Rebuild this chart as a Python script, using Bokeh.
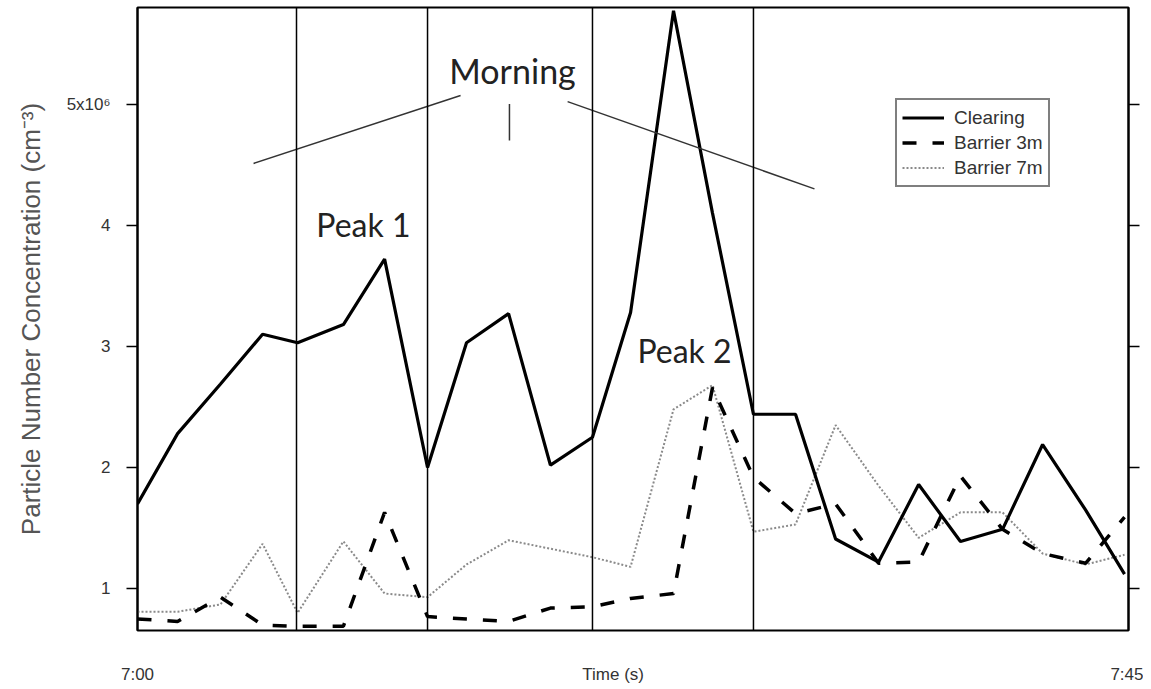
from bokeh.plotting import figure
from bokeh.models import Range1d, LinearAxis, FixedTicker, Span, Legend, LegendItem, Label
from bokeh.embed import file_html
from bokeh.resources import INLINE

# ---- data (minutes after 7:00, concentration in 10^6 cm^-3) ----
times = [0.0, 1.82, 3.77, 5.68, 7.27, 9.35, 11.22, 13.17, 14.94, 16.85, 18.75, 20.66,
         22.39, 24.34, 26.11, 27.97, 29.88, 31.70, 33.65, 35.47, 37.37, 39.28, 41.10,
         43.05, 44.82]
clearing = [1.70, 2.28, 2.69, 3.10, 3.03, 3.18, 3.72, 2.00, 3.03, 3.27, 2.02, 2.25,
            3.28, 5.77, 4.10, 2.44, 2.44, 1.41, 1.22, 1.86, 1.39, 1.49, 2.19, 1.65, 1.12]
barrier_3m = [0.75, 0.73, 0.93, 0.70, 0.69, 0.69, 1.63, 0.77, 0.75, 0.73, 0.84, 0.85,
              0.92, 0.96, 2.66, 1.92, 1.62, 1.70, 1.21, 1.22, 1.93, 1.49, 1.29, 1.21, 1.59]
barrier_7m = [0.81, 0.81, 0.87, 1.37, 0.80, 1.39, 0.96, 0.93, 1.20, 1.40, 1.33, 1.26,
              1.18, 2.48, 2.68, 1.47, 1.53, 2.35, 1.85, 1.42, 1.63, 1.63, 1.29, 1.20, 1.28]
period_bounds = [7.22, 13.17, 20.66, 27.97]

y_ticks = [1, 2, 3, 4, 5]
y_tick_labels = {5: "5x10\u2076"}
x_ticks = [0, 21.6, 45]
x_tick_labels = {0: "7:00", 21.6: "Time (s)", 45: "7:45"}

# annotation guide lines around "Morning"
morning_x0 = [5.27, 16.89, 19.53]
morning_y0 = [4.51, 5.00, 5.02]
morning_x1 = [14.67, 16.89, 30.74]
morning_y1 = [5.07, 4.70, 4.30]

TXT = "#333333"
TICK_FONT = "Liberation Sans"
ANN_FONT = "Lato"

p = figure(width=1143, height=686, output_backend="svg", toolbar_location=None,
           x_range=Range1d(0, 45), y_range=Range1d(0.655, 5.797),
           min_border_left=137, min_border_right=15, min_border_top=7, min_border_bottom=52)
p.xgrid.visible = False
p.ygrid.visible = False
p.outline_line_color = "black"
p.outline_line_width = 2
p.background_fill_color = "white"
p.border_fill_color = "white"

# x axis (labels only)
xa = p.xaxis[0]
xa.ticker = FixedTicker(ticks=x_ticks)
xa.major_label_overrides = x_tick_labels
xa.major_tick_line_color = None
xa.minor_tick_line_color = None
xa.axis_line_color = None
xa.major_tick_out = 0
xa.major_tick_in = 0
xa.major_label_standoff = 34
xa.major_label_text_font = TICK_FONT
xa.major_label_text_font_size = "17px"
xa.major_label_text_color = TXT

# left y axis
ya = p.yaxis[0]
ya.ticker = FixedTicker(ticks=y_ticks)
ya.major_label_overrides = y_tick_labels
ya.minor_tick_line_color = None
ya.major_tick_out = 11
ya.major_tick_in = 0
ya.major_tick_line_width = 1.5
ya.axis_line_width = 2
ya.major_label_standoff = 16
ya.major_label_text_font = TICK_FONT
ya.major_label_text_font_size = "17px"
ya.major_label_text_color = TXT
ya.axis_label = "Particle Number Concentration (cm\u207b\u00b3)"
ya.axis_label_text_font = TICK_FONT
ya.axis_label_text_font_size = "26px"
ya.axis_label_text_font_style = "normal"
ya.axis_label_text_color = "#555555"
ya.axis_label_standoff = 18

# right y axis: ticks only
ra = LinearAxis(ticker=FixedTicker(ticks=y_ticks), major_tick_out=11, major_tick_in=0,
                major_tick_line_width=1.5, minor_tick_line_color=None, axis_line_width=2,
                major_label_overrides={t: "" for t in y_ticks},
                major_label_text_color=None, major_label_standoff=0)
p.add_layout(ra, "right")

# period boundaries
for b in period_bounds:
    p.add_layout(Span(location=b, dimension="height", line_color="black", line_width=1.5))

r7 = p.line(times, barrier_7m, line_color="#8a8a8a", line_width=2, line_dash="2 2")
r3 = p.line(times, barrier_3m, line_color="black", line_width=3.5, line_dash="14 16")
rc = p.line(times, clearing, line_color="black", line_width=3.2)

p.segment(x0=morning_x0, y0=morning_y0, x1=morning_x1, y1=morning_y1,
          line_color="#333333", line_width=1.5)

for txt, x, y, fs in [("Morning", 17.03, 5.28, "34px"), ("Peak 1", 10.26, 4.01, "32px"),
                      ("Peak 2", 24.84, 2.97, "32px")]:
    p.add_layout(Label(x=x, y=y, text=txt, text_align="center", text_baseline="middle",
                       text_font=ANN_FONT, text_font_size=fs, text_color="#222222"))

legend = Legend(items=[LegendItem(label="Clearing", renderers=[rc]),
                       LegendItem(label="Barrier 3m", renderers=[r3]),
                       LegendItem(label="Barrier 7m", renderers=[r7])],
                location=(758, 443))
legend.border_line_color = "black"
legend.border_line_width = 2
legend.label_text_font = TICK_FONT
legend.label_text_font_size = "19px"
legend.label_text_color = TXT
legend.glyph_width = 42
legend.glyph_height = 25
legend.label_height = 25
legend.padding = 5
legend.spacing = 0
legend.label_standoff = 10
legend.margin = 0
p.add_layout(legend)

open("out.html", "w").write(file_html(p, INLINE))
